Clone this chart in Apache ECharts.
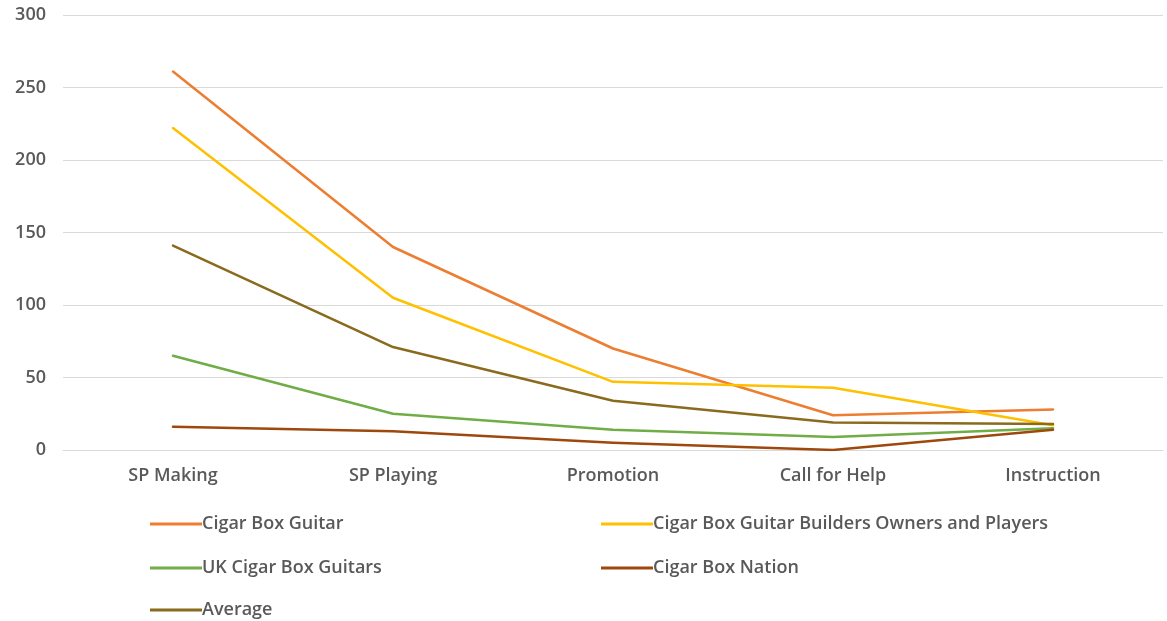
<!DOCTYPE html>
<html>
<head>
<meta charset="utf-8">
<script src="https://cdn.jsdelivr.net/npm/echarts@6/dist/echarts.min.js"></script>
<style>
  html, body { margin: 0; padding: 0; background: #fff; }
  #chart { width: 1167px; height: 621px; }
</style>
</head>
<body>
<div id="chart"></div>
<script>
// Categories along the x axis
const categories = ['SP Making', 'SP Playing', 'Promotion', 'Call for Help', 'Instruction'];

// Series values per group
const cigarBoxGuitar = [261, 140, 70, 24, 28];
const buildersOwnersPlayers = [222, 105, 47, 43, 17];
const ukCigarBoxGuitars = [65, 25, 14, 9, 15];
const cigarBoxNation = [16, 13, 5, 0, 14];
const average = [141, 71, 34, 19, 18];

const yTicks = { min: 0, max: 300, interval: 50 };

const font = '"Open Sans", "Liberation Sans", sans-serif';
const textColor = '#595959';

function line(name, data, color) {
  return {
    name: name,
    type: 'line',
    data: data,
    symbol: 'none',
    smooth: false,
    lineStyle: { width: 2.5, color: color, cap: 'round', join: 'round' },
    itemStyle: { color: color }
  };
}

// One legend entry per component, laid out in two columns
function legendItem(name, left, top) {
  return {
    data: [name],
    left: left,
    top: top,
    padding: 0,
    icon: 'rect',
    itemWidth: 52,
    itemHeight: 3,
    textStyle: { color: textColor, fontSize: 18, fontWeight: 600, fontFamily: font, padding: [0, 0, 0, -5] }
  };
}

const chart = echarts.init(document.getElementById('chart'), null, { renderer: 'canvas' });

chart.setOption({
  animation: false,
  backgroundColor: '#ffffff',
  grid: { left: 63, right: 4, top: 15, bottom: 171, containLabel: false },
  legend: [
    legendItem('Cigar Box Guitar', 150, 515),
    legendItem('UK Cigar Box Guitars', 150, 559),
    legendItem('Average', 150, 601),
    legendItem('Cigar Box Guitar Builders Owners and Players', 601, 515),
    legendItem('Cigar Box Nation', 601, 559)
  ],
  xAxis: {
    type: 'category',
    data: categories,
    boundaryGap: true,
    axisLine: { show: true, lineStyle: { color: '#d9d9d9', width: 1 } },
    axisTick: { show: false },
    axisLabel: { color: textColor, fontSize: 18, fontWeight: 600, fontFamily: font, margin: 17 }
  },
  yAxis: {
    type: 'value',
    min: yTicks.min,
    max: yTicks.max,
    interval: yTicks.interval,
    axisLine: { show: false },
    axisTick: { show: false },
    splitLine: { lineStyle: { color: '#d9d9d9', width: 1 } },
    axisLabel: { color: textColor, fontSize: 18, fontWeight: 600, fontFamily: font, margin: 17 }
  },
  series: [
    line('Cigar Box Guitar', cigarBoxGuitar, '#ED7D31'),
    line('Cigar Box Guitar Builders Owners and Players', buildersOwnersPlayers, '#FFC000'),
    line('UK Cigar Box Guitars', ukCigarBoxGuitars, '#70AD47'),
    line('Cigar Box Nation', cigarBoxNation, '#9E480E'),
    line('Average', average, '#8A6B1E')
  ]
});
</script>
</body>
</html>
